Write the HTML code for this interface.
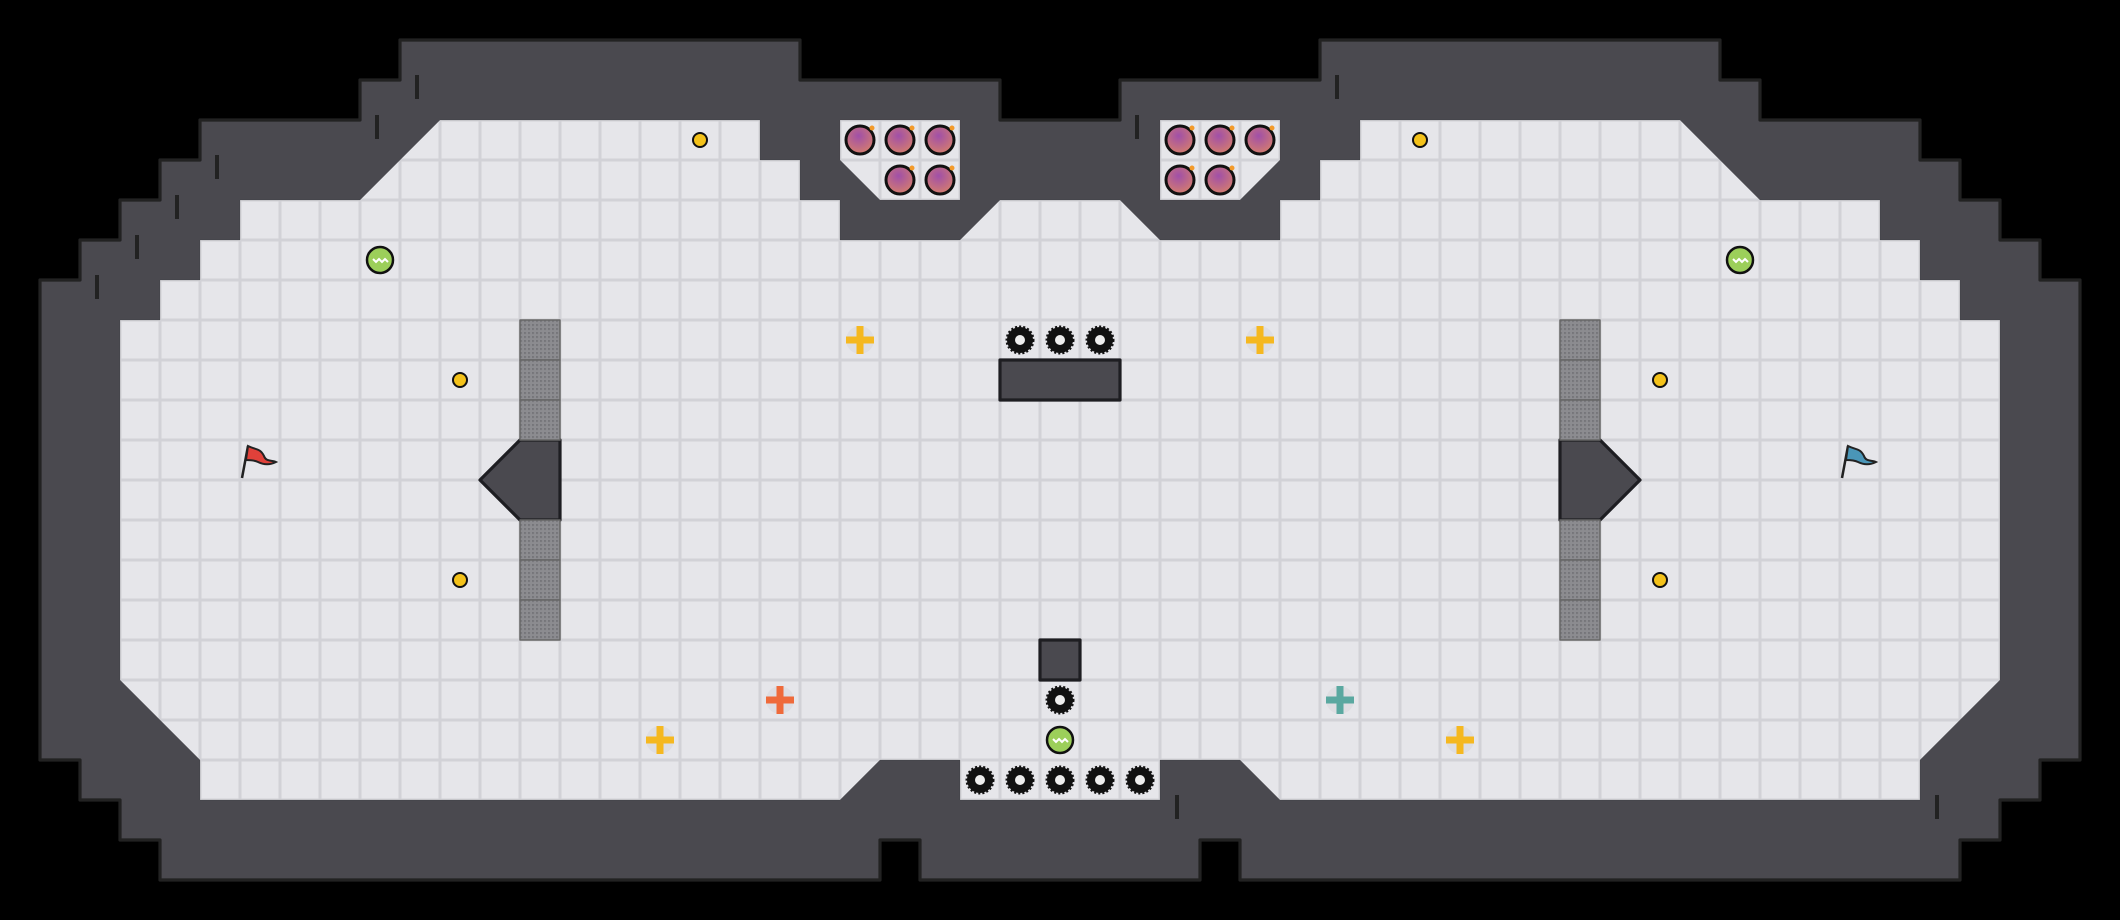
<!DOCTYPE html><html><head><style>body{margin:0;background:#000}svg{display:block}</style></head><body>
<svg width="2120" height="920" viewBox="0 0 2120 920" xmlns="http://www.w3.org/2000/svg">
<defs>
<pattern id="g" width="40" height="40" patternUnits="userSpaceOnUse"><rect width="40" height="40" fill="#d2d2d7"/><rect x="1.5" y="1.5" width="37" height="37" fill="#e6e6ea"/></pattern>
<pattern id="sp" width="4" height="4" patternUnits="userSpaceOnUse"><rect width="4" height="4" fill="#8c8c90"/><rect width="2" height="2" fill="#75757a"/></pattern>
<radialGradient id="bm" cx="0.45" cy="0.35" r="0.7"><stop offset="0" stop-color="#a04fa8"/><stop offset="1" stop-color="#d8806a"/></radialGradient>
<g id="spike"><circle r="13" fill="#111" stroke="#111" stroke-width="3" stroke-dasharray="2 2"/><circle r="5" fill="#eee"/></g>
<g id="bomb"><circle r="14" fill="url(#bm)" stroke="#111" stroke-width="3"/><circle cx="12" cy="-12" r="2.5" fill="#f39a2a"/></g>
<g id="boost"><circle r="14" fill="#dcdce0" opacity=".8"/><path d="M-3.5,-14h7v10.5h10.5v7h-10.5v10.5h-7v-10.5h-10.5v-7h10.5z"/></g>
<g id="pup"><circle r="13" fill="#9ccf5a" stroke="#111" stroke-width="2.5"/><path d="M-7,-1l3,3 3,-3 3,3 3,-3 3,3" fill="none" stroke="#fff" stroke-width="2"/></g>
<g id="dot"><circle r="7" fill="#f4c21a" stroke="#111" stroke-width="2"/></g>
</defs>
<g transform="scale(40)" stroke-linejoin="round">
<path fill="#4a494f" stroke="#222" stroke-width="0.08" d="M10,1H20V2H25V3H28V2H33V1H43V2H44V3H48V4H49V5H50V6H51V7H52V19H51V20H50V21H49V22H31V21H30V22H23V21H22V22H4V21H3V20H2V19H1V7H2V6H3V5H4V4H5V3H9V2H10Z"/>
<path fill="url(#g)" stroke="#1e1e22" stroke-width="0.14" transform="scale(0.025)" d="M440,120H760V160H800V200H840V240H960L1000,200H1120L1160,240H1280V200H1320V160H1360V120H1680L1760,200H1880V240H1920V280H1960V320H2000V680L1920,760V800H1280L1240,760H1160V800H960V760H880L840,800H200V760L120,680V320H160V280H200V240H240V200H360Z"/>
<path fill="url(#g)" stroke="#1e1e22" stroke-width="0.1" transform="scale(0.025)" d="M840,120H960V200H880L840,160Z"/>
<path fill="url(#g)" stroke="#1e1e22" stroke-width="0.1" transform="scale(0.025)" d="M1160,120H1280V160L1240,200H1160Z"/>
<rect x="25" y="9" width="3" height="1" fill="#4a494f" stroke="#1e1e22" stroke-width="0.08"/>
<rect x="26" y="16" width="1" height="1" fill="#4a494f" stroke="#1e1e22" stroke-width="0.08"/>
<path d="M13,11H14V13H13L12,12Z" fill="#4a494f" stroke="#1e1e22" stroke-width="0.08"/>
<path d="M39,11H40L41,12L40,13H39Z" fill="#4a494f" stroke="#1e1e22" stroke-width="0.08"/>
<g fill="url(#sp)" transform="scale(0.025)" stroke="#666" stroke-width="1.5">
<rect x="520" y="320" width="40" height="40"/><rect x="520" y="360" width="40" height="40"/><rect x="520" y="400" width="40" height="40"/>
<rect x="520" y="520" width="40" height="40"/><rect x="520" y="560" width="40" height="40"/><rect x="520" y="600" width="40" height="40"/>
<rect x="1560" y="320" width="40" height="40"/><rect x="1560" y="360" width="40" height="40"/><rect x="1560" y="400" width="40" height="40"/>
<rect x="1560" y="520" width="40" height="40"/><rect x="1560" y="560" width="40" height="40"/><rect x="1560" y="600" width="40" height="40"/>
</g>
</g>
<g fill="#222"><rect x="415" y="75" width="4" height="24"/><rect x="375" y="115" width="4" height="24"/><rect x="215" y="155" width="4" height="24"/><rect x="175" y="195" width="4" height="24"/><rect x="135" y="235" width="4" height="24"/><rect x="95" y="275" width="4" height="24"/><rect x="1135" y="115" width="4" height="24"/><rect x="1335" y="75" width="4" height="24"/><rect x="1175" y="795" width="4" height="24"/><rect x="1935" y="795" width="4" height="24"/></g>
<use href="#bomb" x="860" y="140"/><use href="#bomb" x="900" y="140"/><use href="#bomb" x="940" y="140"/><use href="#bomb" x="900" y="180"/><use href="#bomb" x="940" y="180"/>
<use href="#bomb" x="1180" y="140"/><use href="#bomb" x="1220" y="140"/><use href="#bomb" x="1260" y="140"/><use href="#bomb" x="1180" y="180"/><use href="#bomb" x="1220" y="180"/>
<use href="#spike" x="1020" y="340"/><use href="#spike" x="1060" y="340"/><use href="#spike" x="1100" y="340"/>
<use href="#spike" x="1060" y="700"/>
<use href="#spike" x="980" y="780"/><use href="#spike" x="1020" y="780"/><use href="#spike" x="1060" y="780"/><use href="#spike" x="1100" y="780"/><use href="#spike" x="1140" y="780"/>
<use href="#boost" x="860" y="340" fill="#f5b820"/><use href="#boost" x="1260" y="340" fill="#f5b820"/>
<use href="#boost" x="660" y="740" fill="#f5b820"/><use href="#boost" x="1460" y="740" fill="#f5b820"/>
<use href="#boost" x="780" y="700" fill="#ef6a3a"/><use href="#boost" x="1340" y="700" fill="#5aa8a0"/>
<use href="#pup" x="380" y="260"/><use href="#pup" x="1740" y="260"/><use href="#pup" x="1060" y="740"/>
<use href="#dot" x="700" y="140"/><use href="#dot" x="460" y="380"/><use href="#dot" x="460" y="580"/>
<use href="#dot" x="1420" y="140"/><use href="#dot" x="1660" y="380"/><use href="#dot" x="1660" y="580"/>
<g transform="translate(252,460)"><path d="M-10,18L-4,-14" stroke="#222" stroke-width="2.5"/><path d="M-4,-14C4,-10 8,-12 12,-4C14,2 20,0 24,2C16,6 10,4 6,2C2,0 -2,0 -6,0Z" fill="#e0413a" stroke="#222" stroke-width="2"/></g>
<g transform="translate(1852,460)"><path d="M-10,18L-4,-14" stroke="#222" stroke-width="2.5"/><path d="M-4,-14C4,-10 8,-12 12,-4C14,2 20,0 24,2C16,6 10,4 6,2C2,0 -2,0 -6,0Z" fill="#4a96b8" stroke="#222" stroke-width="2"/></g>
</svg>
</body></html>
